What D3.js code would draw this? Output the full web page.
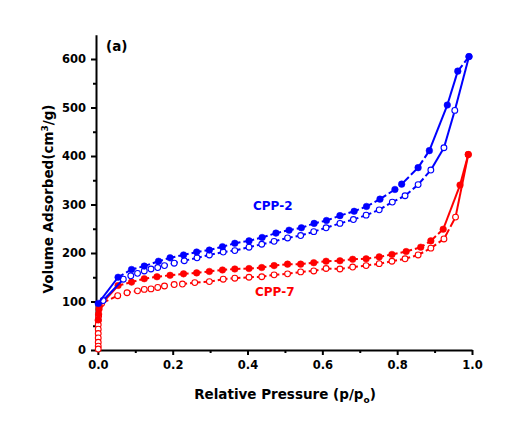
<!DOCTYPE html>
<html>
<head>
<meta charset="utf-8">
<style type="text/css">
	body {
		margin: 0;
		background: #ffffff;
	}
	.axis path, .axis line {
		stroke: #000;
		stroke-width: 2;
	}
	.axis text {
		font-family: "DejaVu Sans", sans-serif;
		font-weight: bold;
		font-size: 11.5px;
		fill: #000;
	}
	.title {
		font-family: "DejaVu Sans", sans-serif;
		font-weight: bold;
		font-size: 13.5px;
	}
</style>
</head>
<body>
<div class="vis-iso"></div>

<script src="https://d3js.org/d3.v7.min.js"></script>
<script>

	// Data //
	// ---- //

	// CPP-2 adsorption (filled)
	let cpp2AdsP = [0.001, 0.054, 0.090, 0.124, 0.162, 0.193, 0.229, 0.264, 0.298, 0.333, 0.366, 0.404, 0.439, 0.476, 0.511, 0.544, 0.578, 0.611, 0.647, 0.685, 0.718, 0.754, 0.794, 0.812, 0.856, 0.886, 0.934, 0.962, 0.992];
	let cpp2AdsV = [96, 150, 166, 173, 183, 190, 196, 202, 206, 213, 220, 225, 232, 241, 247, 252, 261, 267, 277, 286, 296, 311, 331, 342, 376, 411, 505, 575, 605];

	// CPP-2 desorption (open)
	let cpp2DesP = [0.992, 0.954, 0.925, 0.890, 0.856, 0.821, 0.787, 0.752, 0.717, 0.683, 0.647, 0.610, 0.577, 0.542, 0.507, 0.471, 0.438, 0.404, 0.366, 0.335, 0.298, 0.265, 0.231, 0.204, 0.178, 0.160, 0.142, 0.124, 0.106, 0.088, 0.068, 0.014];
	let cpp2DesV = [605, 494, 417, 371, 341, 318, 305, 289, 278, 269, 261, 252, 244, 236, 231, 224, 218, 212, 205, 202, 196, 190, 184, 179, 174, 170, 167, 163, 158, 153, 146, 102];

	// CPP-7 adsorption (filled)
	let cpp7AdsP = [0.001, 0.002, 0.003, 0.004, 0.054, 0.090, 0.124, 0.158, 0.193, 0.229, 0.264, 0.298, 0.333, 0.366, 0.404, 0.438, 0.471, 0.507, 0.542, 0.577, 0.610, 0.647, 0.681, 0.717, 0.752, 0.786, 0.824, 0.863, 0.890, 0.923, 0.968, 0.990];
	let cpp7AdsV = [62, 74, 84, 90, 133, 140, 147, 151, 154, 157, 159, 162, 165, 167, 168, 170, 174, 177, 177, 180, 183, 184, 187, 188, 192, 197, 203, 212, 225, 249, 340, 403];

	// CPP-7 desorption (open)
	let cpp7DesP = [0.990, 0.956, 0.925, 0.890, 0.856, 0.821, 0.786, 0.752, 0.717, 0.681, 0.647, 0.610, 0.577, 0.542, 0.507, 0.471, 0.438, 0.404, 0.366, 0.335, 0.298, 0.259, 0.226, 0.204, 0.178, 0.160, 0.142, 0.124, 0.106, 0.078, 0.053, 0.010, 0.002, 0.001, 0.001, 0.001, 0.001, 0.001, 0.001, 0.001, 0.001];
	let cpp7DesV = [403, 274, 229, 210, 196, 188, 183, 178, 174, 171, 167, 168, 163, 161, 157, 155, 151, 150, 148, 146, 141, 139, 136, 135, 132, 129, 126, 125, 122, 118, 112, 96, 70, 61, 52, 43, 34, 25, 16, 8, 2];

	let xTicks = [0.0, 0.2, 0.4, 0.6, 0.8, 1.0];
	let xMinor = [0.1, 0.3, 0.5, 0.7, 0.9];
	let yTicks = [0, 100, 200, 300, 400, 500, 600];
	let yMinor = [50, 150, 250, 350, 450, 550];

	// Setup //
	// ----- //

	let width = 515, height = 440;
	let blue = "#0000ff", red = "#ff0000";

	let x = d3.scaleLinear().domain([-0.005, 1.0]).range([96, 472]);
	let y = d3.scaleLinear().domain([0, 650]).range([350, 34.75]);

	let svg = d3.select(".vis-iso")
		.append("svg")
			.attr("width", width)
			.attr("height", height);

	// minor ticks first
	svg.append("g")
		.attr("class", "axis")
		.attr("transform", "translate(0,350)")
		.call(d3.axisBottom(x).tickValues(xMinor).tickSize(3).tickFormat(""))
		.select(".domain").remove();
	svg.append("g")
		.attr("class", "axis")
		.attr("transform", "translate(96,0)")
		.call(d3.axisLeft(y).tickValues(yMinor).tickSize(3).tickFormat(""))
		.select(".domain").remove();

	// X-AXIS
	svg.append("g")
		.attr("class", "axis")
		.attr("transform", "translate(0,350)")
		.call(d3.axisBottom(x).tickValues(xTicks).tickSize(5).tickSizeOuter(0).tickPadding(6).tickFormat(d3.format(".1f")));

	// Y-AXIS
	svg.append("g")
		.attr("class", "axis")
		.attr("transform", "translate(96,0)")
		.call(d3.axisLeft(y).tickValues(yTicks).tickSize(5).tickSizeOuter(0).tickPadding(5));

	// LINES AND DOTS
	function zip(a, b) {
		return a.map((e, i) => [e, b[i]]);
	}

	function drawSeries(ps, vs, color, filled) {
		let datum = zip(ps, vs);
		let segs = d3.pairs(datum);
		// short segments get a gap in the middle (dash look), long ones stay solid
		svg.append("g").selectAll("line")
			.data(segs)
			.enter().append("line")
			.attr("x1", d => x(d[0][0]))
			.attr("y1", d => y(d[0][1]))
			.attr("x2", d => x(d[1][0]))
			.attr("y2", d => y(d[1][1]))
			.style("stroke", color)
			.style("stroke-width", 2)
			.style("stroke-dasharray", d => {
				let L = Math.hypot(x(d[1][0]) - x(d[0][0]), y(d[1][1]) - y(d[0][1]));
				if (L < 25) return (L / 2 - 1.5) + " 3 " + L;
				return null;
			});
		svg.append("g").selectAll("circle")
			.data(datum)
			.enter().append("circle")
			.attr("cx", d => x(d[0]))
			.attr("cy", d => y(d[1]))
			.attr("r", filled ? 3.3 : 2.9)
			.style("fill", filled ? color : "#fff")
			.style("stroke", color)
			.style("stroke-width", filled ? 0.5 : 1.1);
	}

	drawSeries(cpp7DesP, cpp7DesV, red, false);
	drawSeries(cpp7AdsP, cpp7AdsV, red, true);
	drawSeries(cpp2DesP, cpp2DesV, blue, false);
	drawSeries(cpp2AdsP, cpp2AdsV, blue, true);

	// LABELS
	svg.append("text")
		.attr("class", "title")
		.attr("x", 106)
		.attr("y", 51)
		.style("font-size", "13.5px")
		.text("(a)");

	svg.append("text")
		.attr("class", "title")
		.attr("x", 253)
		.attr("y", 210)
		.style("fill", blue)
		.style("font-size", "12px")
		.text("CPP-2");

	svg.append("text")
		.attr("class", "title")
		.attr("x", 255)
		.attr("y", 296)
		.style("fill", red)
		.style("font-size", "12px")
		.text("CPP-7");

	// Y LABEL
	let ylab = svg.append("text")
		.attr("class", "title")
		.attr("transform", "translate(53," + 199 + ") rotate(-90)")
		.style("text-anchor", "middle");
	ylab.append("tspan").text("Volume Adsorbed(cm");
	ylab.append("tspan").attr("dy", -5).style("font-size", "9px").text("3");
	ylab.append("tspan").attr("dy", 5).text("/g)");

	// X LABEL
	let xlab = svg.append("text")
		.attr("class", "title")
		.attr("x", 285)
		.attr("y", 399)
		.style("text-anchor", "middle");
	xlab.append("tspan").text("Relative Pressure (p/p");
	xlab.append("tspan").attr("dy", 4).style("font-size", "9px").text("o");
	xlab.append("tspan").attr("dy", -4).text(")");

</script>
</body>
</html>
